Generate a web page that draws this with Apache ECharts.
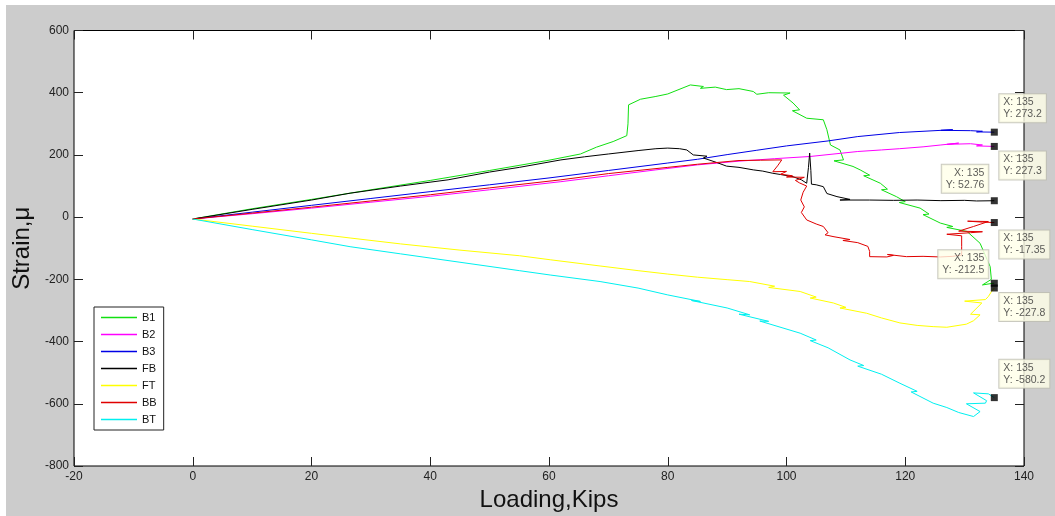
<!DOCTYPE html>
<html>
<head>
<meta charset="utf-8">
<script src="https://cdn.jsdelivr.net/npm/echarts@6/dist/echarts.min.js"></script>
<style>
html,body{margin:0;padding:0;background:#fff;}
#c{width:1055px;height:516px;background:#cccccc;box-shadow:inset 6px 5px 0 0 #fff;}
</style>
</head>
<body>
<div id="c"></div>
<script>
// ---- data ----
const xTicks = [-20, 0, 20, 40, 60, 80, 100, 120, 140];
const yTicks = [-800, -600, -400, -200, 0, 200, 400, 600];
const seriesNames = ['B1', 'B2', 'B3', 'FB', 'FT', 'BB', 'BT'];

const b1 = [[0,-6],[10,27],[20,57],[30,88],[40,118],[50,150],[60,183],[65.3,203],[68,225],[70.8,243],[73.1,262],[73.3,300],[73.4,361],[75.4,379],[78,388],[80,396],[83.8,425],[86,420],[85.5,414],[88,418],[89.9,410],[92,413],[94.4,404],[95,395],[97,400],[100.6,399],[99.5,392],[101.1,367],[102.2,345],[101,342],[103.4,318],[106.2,313],[106.8,281],[107.4,232],[109,216],[109.6,184],[108,181],[111.2,163],[112.4,152],[114,135],[113,133],[115.8,109],[117,90],[116,88],[118.5,66],[120,50],[119,47],[122.5,29],[124,10],[123,8],[125.9,-19],[128,-30],[127,-33],[130.4,-46],[132.6,-84],[134.3,-159],[134.5,-200],[133,-218],[134.6,-213],[135,-212.5]];

const b2 = [[0,-6],[10,11],[20,29],[30,48],[40,67],[50,88],[62,114],[70,133],[78,152],[85,168],[92,180],[98,188],[104,195],[108,203],[112,211],[116,216],[119,220],[123,226],[126,232],[129,238],[127,234],[131,236],[133,232],[132,229],[135,227.3]];

const b3 = [[0,-6],[10,16],[20,38],[30,60],[40,82],[50,104],[60,126],[70,150],[80,174],[85,186],[90,201],[95,215],[100,229],[107,245],[112,259],[119,272],[124,277],[128,281],[126,279],[131,278],[133,276],[132,274],[135,273.2]];

const fb = [[0,-6],[10,25],[20,55],[26.5,77],[35,100],[43,120],[50,145],[55,160],[62,184],[66,194],[70,203],[75,214],[78,220],[80,222],[82,220],[83.2,216],[84.3,200],[86.6,196],[86,190],[88.2,176],[89.9,164],[92,160],[94.4,152],[96,148],[97.7,141],[99,137],[101.1,130],[102.5,120],[103.4,109],[103.7,160],[103.9,206],[104.1,150],[104.2,106],[105,104],[106.2,98],[106.8,76],[108.5,66],[110.7,57],[109,55],[114,55],[118,54],[122,55],[126,53],[130,54],[132,52],[135,52.76]];

const ft = [[0,-6],[10,-29],[20,-52],[26.5,-67],[35,-86],[45,-106],[55,-124],[60.2,-137],[68.6,-157],[75,-172],[80,-183],[85,-193],[90,-201],[93.8,-207],[98,-222],[97,-226],[102.3,-239],[105,-257],[104,-260],[107.9,-276],[110,-290],[109,-292],[113.5,-309],[116,-324],[119.1,-340],[122,-348],[124.7,-352],[127,-354],[130.3,-344],[131.5,-333],[132.6,-314],[131,-312],[132.9,-276],[130,-270],[133.5,-265],[134,-255],[134.5,-240],[135,-227.8]];

const bb = [[0,-6],[10,13],[20,32],[30,52],[40,72],[50,94],[62,120],[70,140],[80,160],[85,170],[92,182],[95.6,183],[99.2,184],[98.5,165],[97.7,146],[100,147],[99,138],[101,133],[100,129],[103,128],[101.5,118],[102.2,110],[103.4,100],[102.8,80],[102.4,55],[103,33],[102.5,15],[103.4,-9],[105,-22],[106.2,-30],[107,-50],[106.5,-57],[108,-63],[110.7,-72],[109.5,-75],[112,-82],[113.7,-94],[114,-110],[114,-127],[116.9,-128],[118,-123],[117,-120],[120.2,-127],[123,-126],[125.9,-128],[128,-126],[129.5,-122],[129.5,-95],[129.5,-60],[127,-55],[131,-50],[133,-47],[129,-45],[131.5,-30],[134,-14],[130.5,-13],[133,-16],[135,-17.35]];

const bt = [[0,-6],[10,-40],[20,-73],[26.5,-95],[35,-118],[45,-145],[55,-172],[60.2,-186],[68.6,-207],[75,-228],[80,-250],[85.5,-271],[84,-268],[90,-292],[93.8,-314],[92,-312],[97,-335],[95.5,-334],[102.3,-373],[105,-395],[104,-397],[107,-420],[110.7,-459],[113,-477],[112,-479],[116,-505],[119.1,-534],[122,-560],[121,-562],[124.7,-598],[127,-612],[129,-628],[131.5,-641],[132.6,-625],[130.3,-600],[133.5,-598],[133.7,-590],[131.5,-565],[134,-568],[135,-580.2]];

const tipX = 135;
const tipY = [273.2, 227.3, 52.76, -17.35, -212.5, -227.8, -580.2];

// ---- styles ----
const colors = ['#11e011', '#ff00ff', '#0000e6', '#000000', '#ffff00', '#e00000', '#00f0f0'];
const seriesData = [b1, b2, b3, fb, ft, bb, bt];
// label placement of each data tip: [dx, dy, align, verticalAlign]
const tipPlace = [
  [8.5, -6.5, 'left', 'bottom'],
  [8.5, 8.5, 'left', 'top'],
  [-2.5, -4.5, 'right', 'bottom'],
  [8.5, 11.5, 'left', 'top'],
  [-2.5, -1.5, 'right', 'bottom'],
  [8.5, 8.5, 'left', 'top'],
  [8.5, -6.5, 'left', 'bottom']
];
const tickFont = "'Liberation Sans Narrow','Liberation Sans',Arial,sans-serif";
const nameFont = "'Liberation Sans',Arial,sans-serif";

const chart = echarts.init(document.getElementById('c'), null, {renderer: 'canvas'});

function axisBase(showLabel, pos) {
  return {
    type: 'value',
    position: pos,
    axisLine: {show: false, onZero: false},
    axisTick: {show: true, inside: true, length: 9, lineStyle: {color: '#222', width: 1}},
    splitLine: {show: false},
    axisLabel: {show: showLabel, color: '#222', fontSize: 12, fontFamily: tickFont, margin: 5}
  };
}

const xMain = Object.assign(axisBase(true, 'bottom'), {
  min: xTicks[0], max: xTicks[xTicks.length - 1], interval: xTicks[1] - xTicks[0],
  name: 'Loading,Kips', nameLocation: 'middle', nameGap: 20,
  nameTextStyle: {fontSize: 24, color: '#111', fontFamily: nameFont}
});
const xTop = Object.assign(axisBase(false, 'top'), {
  min: xTicks[0], max: xTicks[xTicks.length - 1], interval: xTicks[1] - xTicks[0]
});
const yMain = Object.assign(axisBase(true, 'left'), {
  min: yTicks[0], max: yTicks[yTicks.length - 1], interval: yTicks[1] - yTicks[0],
  name: 'Strain,\u03bc', nameLocation: 'middle', nameGap: 40, nameRotate: 90,
  nameTextStyle: {fontSize: 24, color: '#111', fontFamily: nameFont}
});
const yRight = Object.assign(axisBase(false, 'right'), {
  min: yTicks[0], max: yTicks[yTicks.length - 1], interval: yTicks[1] - yTicks[0]
});

const lineSeries = seriesNames.map((n, i) => ({
  name: n,
  type: 'line',
  data: seriesData[i],
  showSymbol: false,
  symbol: 'none',
  color: colors[i],
  lineStyle: {width: 1, color: colors[i]},
  xAxisIndex: 0, yAxisIndex: 0,
  z: 2 + i,
  silent: true
}));

const tipSeries = {
  type: 'scatter',
  symbol: 'rect',
  symbolSize: 7,
  itemStyle: {color: '#000'},
  z: 20,
  silent: true,
  data: tipY.map((y, i) => ({
    value: [tipX, y],
    label: {
      show: true,
      position: [tipPlace[i][0], tipPlace[i][1]],
      align: tipPlace[i][2],
      verticalAlign: tipPlace[i][3],
      formatter: p => 'X: ' + p.value[0] + '\nY: ' + p.value[1],
      fontSize: 10.5,
      lineHeight: 12,
      color: '#333',
      fontFamily: nameFont,
      backgroundColor: '#ffffe8',
      borderColor: '#bdbdb0',
      borderWidth: 1,
      padding: [2, 4, 2, 4]
    }
  }))
};

chart.setOption({
  animation: false,
  grid: {left: 74, right: 31, top: 30.5, bottom: 50, show: true, backgroundColor: '#fff', borderColor: '#000', borderWidth: 1, containLabel: false, outerBoundsMode: 'none'},
  xAxis: [xMain, xTop],
  yAxis: [yMain, yRight],
  legend: {
    data: seriesNames,
    orient: 'vertical',
    left: 94, top: 307,
    icon: 'rect',
    itemWidth: 36, itemHeight: 1.5,
    itemGap: 5,
    padding: [4.5, 7, 4.5, 7],
    backgroundColor: '#fff',
    borderColor: '#222',
    borderWidth: 1,
    selectedMode: false,
    textStyle: {fontSize: 11, lineHeight: 12, color: '#111', fontFamily: nameFont}
  },
  series: lineSeries.concat([tipSeries])
});
</script>
</body>
</html>
